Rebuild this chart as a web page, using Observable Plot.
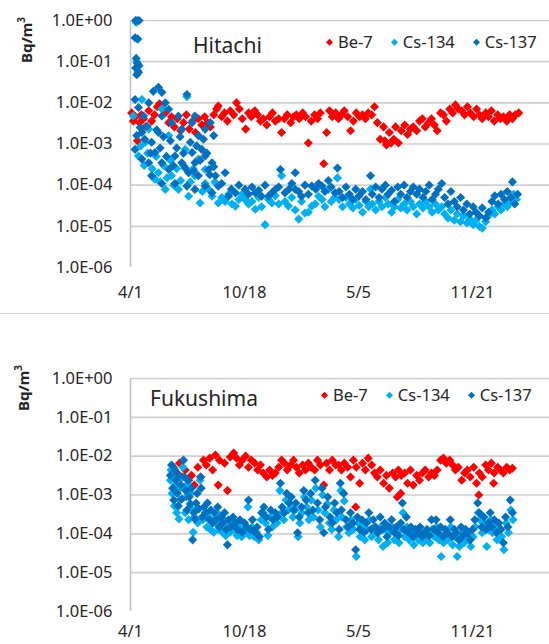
<!DOCTYPE html>
<html><head><meta charset="utf-8">
<script src="https://cdn.jsdelivr.net/npm/d3@7"></script>
<script src="https://cdn.jsdelivr.net/npm/@observablehq/plot@0.6"></script>
<style>
body{margin:0;background:#fff;}
#wrap{position:relative;width:549px;height:644px;overflow:hidden;font-family:"Noto Sans",sans-serif;color:#262626;}
.abs{position:absolute;white-space:nowrap;line-height:1;}
.panel{position:absolute;left:0;}
.leg{position:absolute;display:flex;align-items:center;line-height:1;white-space:nowrap;transform:translateY(-50%);font-size:16.5px;}
.leg .item{display:flex;align-items:center;margin-right:19px;}
.leg .dia{width:5px;height:5px;transform:rotate(45deg);margin-right:6px;}
</style></head><body><div id="wrap"></div>
<script>
// ---- data: [days since 2011-04-01, Bq/m3] ----
const seriesNames = ["Be-7", "Cs-134", "Cs-137"];
const seriesColors = ["#FF0000", "#00B0F0", "#0070C0"];
const panelTitles = ["Hitachi", "Fukushima"];
const yTicks = [1, 1e-1, 1e-2, 1e-3, 1e-4, 1e-5, 1e-6];
const yTickLabels = ["1.0E+00", "1.0E-01", "1.0E-02", "1.0E-03", "1.0E-04", "1.0E-05", "1.0E-06"];
const gridValues = [1, 1e-1, 1e-2, 1e-3, 1e-4, 1e-5];
const xTickDates = ["2011-04-01", "2011-10-18", "2012-05-05", "2012-11-21"];
const xTickLabels = ["4/1", "10/18", "5/5", "11/21"];
const xEndDays = 735;

const hitachiBe7 = [[2,5.7e-3],[5,3.6e-3],[9,4.6e-3],[12,1.2e-3],[16,3.3e-3],[19,5.1e-3],[23,4.1e-3],[26,2.6e-3],[32,6.4e-3],[37,3.6e-3],[42,5.1e-3],[47,8.0e-3],[51,9.5e-3],[56,7.1e-3],[61,5.7e-3],[67,3.3e-3],[72,4.6e-3],[77,2.6e-3],[82,4.1e-3],[88,2.1e-3],[93,3.3e-3],[98,5.1e-3],[103,2.3e-3],[109,3.6e-3],[114,1.9e-3],[119,4.1e-3],[125,2.9e-3],[130,4.6e-3],[135,3.3e-3],[140,2.6e-3],[146,5.1e-3],[151,7.1e-3],[154,8.4e-3],[160,4.6e-3],[165,5.7e-3],[170,3.6e-3],[175,6.4e-3],[181,5.1e-3],[186,1.0e-2],[191,7.1e-3],[196,4.1e-3],[202,2.3e-3],[207,5.7e-3],[212,4.6e-3],[218,6.4e-3],[223,5.1e-3],[228,3.6e-3],[233,4.1e-3],[239,2.9e-3],[244,4.6e-3],[249,5.7e-3],[254,3.6e-3],[260,4.1e-3],[265,1.9e-3],[270,4.1e-3],[275,5.1e-3],[281,3.3e-3],[286,4.6e-3],[291,5.1e-3],[296,4.1e-3],[302,5.7e-3],[307,4.6e-3],[312,1.06e-3],[317,3.6e-3],[323,5.1e-3],[328,4.1e-3],[333,5.7e-3],[339,3.3e-4],[344,1.9e-3],[349,6.4e-3],[354,4.6e-3],[360,5.7e-3],[365,4.1e-3],[370,5.1e-3],[375,6.4e-3],[381,4.6e-3],[386,2.1e-3],[391,3.6e-3],[396,5.7e-3],[402,4.6e-3],[407,5.1e-3],[412,4.1e-3],[417,5.7e-3],[423,5.1e-3],[428,8.0e-3],[433,3.3e-3],[438,1.3e-3],[444,2.6e-3],[446,1.2e-3],[449,9.5e-4],[454,1.9e-3],[457,1.06e-3],[460,1.2e-3],[462,1.3e-3],[465,2.6e-3],[470,1.06e-3],[475,2.1e-3],[481,2.9e-3],[486,1.7e-3],[491,2.3e-3],[496,2.6e-3],[502,2.1e-3],[507,3.6e-3],[512,4.1e-3],[517,2.6e-3],[523,3.3e-3],[528,4.1e-3],[533,2.9e-3],[538,2.1e-3],[544,5.7e-3],[549,5.1e-3],[554,3.6e-3],[560,7.1e-3],[565,5.7e-3],[570,8.9e-3],[575,7.1e-3],[581,6.4e-3],[586,5.1e-3],[591,8.0e-3],[596,5.7e-3],[602,4.6e-3],[607,7.1e-3],[612,5.1e-3],[617,4.1e-3],[623,5.7e-3],[628,4.6e-3],[633,6.4e-3],[638,3.6e-3],[644,5.1e-3],[649,4.1e-3],[654,4.6e-3],[660,3.6e-3],[665,5.1e-3],[670,4.1e-3],[675,5.1e-3],[681,5.7e-3]];

const hitachiCs134 = [[10,0.9],[13,0.35],[11,0.1],[13,0.06],[5,4.8e-3],[20,1.2e-2],[32,2.3e-3],[55,7.1e-3],[67,1.6e-3],[99,1.4e-2],[96,7.4e-4],[119,4.3e-4],[131,2.4e-4],[14,5.1e-4],[26,1.1e-3],[43,1.4e-4],[49,2.0e-4],[61,7.9e-5],[72,1.7e-4],[84,7.9e-5],[102,5.4e-5],[113,1.7e-4],[122,3.7e-5],[131,1.1e-4],[143,5.4e-5],[154,3.7e-5],[18,9e-4],[24,3e-4],[30,6e-4],[38,2.5e-4],[45,5e-4],[52,1.2e-4],[58,3e-4],[64,1.5e-4],[70,4e-4],[76,1e-4],[81,2.5e-4],[88,1.3e-4],[93,3e-4],[105,1.2e-4],[110,2.5e-4],[126,7e-5],[137,8e-5],[148,1.2e-4],[160,5e-5],[166,4e-5],[172,6e-5],[178,3.5e-5],[184,3.1e-5],[190,4.5e-5],[196,6e-5],[201,4.5e-5],[207,3.5e-5],[213,4e-5],[219,2.6e-5],[225,5e-5],[230,3e-5],[236,1.1e-5],[242,4.5e-5],[248,3.7e-5],[254,5.5e-5],[260,3.5e-5],[265,1.7e-4],[271,4e-5],[277,3.1e-5],[283,5e-5],[289,2.5e-5],[295,1.5e-5],[300,4e-5],[306,2.1e-5],[312,2.2e-5],[318,3.1e-5],[324,3.5e-5],[330,5.4e-5],[336,4.5e-5],[341,3e-5],[347,7.9e-5],[352,4e-5],[358,5e-5],[363,1.5e-4],[366,4.5e-5],[372,3e-5],[378,5e-5],[384,3.5e-5],[390,2.8e-5],[395,4.5e-5],[401,3.2e-5],[407,2.2e-5],[413,4e-5],[418,3e-5],[421,8e-5],[424,3.5e-5],[430,2.5e-5],[436,4e-5],[441,3e-5],[447,5e-5],[452,3.5e-5],[458,2.2e-5],[463,3e-5],[469,4.5e-5],[474,2.8e-5],[480,3.5e-5],[485,2.5e-5],[491,4e-5],[496,3e-5],[502,2e-5],[507,3.5e-5],[513,2.8e-5],[518,4e-5],[524,3e-5],[529,2.2e-5],[535,3.5e-5],[540,2.5e-5],[546,3e-5],[551,2e-5],[557,1.6e-5],[562,2.5e-5],[568,1.4e-5],[573,2e-5],[579,1.3e-5],[584,1.8e-5],[590,1.2e-5],[595,1.5e-5],[601,1.1e-5],[606,1.4e-5],[612,1.0e-5],[617,9e-6],[623,1.3e-5],[628,1.8e-5],[634,2.5e-5],[639,2e-5],[645,3e-5],[650,2.5e-5],[656,3.5e-5],[661,3e-5],[667,4e-5],[672,6e-5],[677,4.5e-5]];

const hitachiCs137 = [[9,1.0],[12,1.0],[15,1.0],[8,0.38],[12,0.36],[10,0.12],[12,0.09],[9,0.07],[14,0.055],[11,0.048],[15,0.08],[8,1.2e-2],[14,7.7e-3],[23,4.8e-3],[32,1.0e-2],[40,1.9e-2],[49,2.4e-2],[55,1.8e-2],[61,1.0e-2],[29,2.7e-3],[20,1.9e-3],[11,1.6e-3],[37,1.1e-3],[49,1.9e-3],[55,4.8e-3],[67,7.0e-3],[72,3.3e-3],[84,4.8e-3],[90,2.3e-3],[99,1.6e-2],[108,3.3e-3],[113,4.8e-3],[119,1.6e-3],[131,2.3e-3],[140,3.3e-3],[146,1.6e-3],[17,2.5e-3],[25,1.3e-3],[35,6e-4],[46,2.2e-3],[52,8e-4],[58,1.5e-3],[63,5e-4],[70,1.2e-3],[75,3e-4],[81,8e-4],[87,1.5e-3],[93,6e-4],[96,2.6e-4],[105,1.1e-3],[111,2.2e-4],[116,9e-4],[122,4e-4],[128,1.3e-3],[134,6e-4],[139,1.8e-4],[146,2.8e-4],[8,7.4e-4],[20,4.3e-4],[32,3.5e-4],[43,6.2e-4],[55,3.5e-4],[67,2.4e-4],[78,5.1e-4],[90,3.5e-4],[102,2.0e-4],[108,6.2e-4],[113,3.5e-4],[119,1.7e-4],[125,7.4e-4],[131,5.1e-4],[137,2.4e-4],[143,3.5e-4],[149,1.7e-4],[37,1.7e-4],[55,1.1e-4],[78,1.1e-4],[99,9.5e-5],[113,7.9e-5],[131,9.5e-5],[143,6.5e-5],[154,9.5e-5],[160,1.1e-4],[166,2.0e-4],[172,5.4e-5],[177,8e-5],[184,6.5e-5],[190,1.0e-4],[201,7.9e-5],[207,6e-5],[213,9e-5],[219,6.5e-5],[225,7.5e-5],[230,5.4e-5],[236,1.0e-4],[242,5.4e-5],[248,6.5e-5],[254,7.9e-5],[260,9e-5],[263,2.4e-4],[271,6.5e-5],[278,8e-5],[283,1.1e-4],[289,2.0e-4],[289,7.9e-5],[295,7e-5],[300,5.4e-5],[306,1.0e-4],[312,6e-5],[318,9.5e-5],[325,8e-5],[330,1.1e-4],[336,9.5e-5],[341,7e-5],[347,1.3e-4],[352,9e-5],[359,6.5e-5],[363,2.6e-4],[366,7e-5],[372,5e-5],[378,9e-5],[384,6e-5],[390,4.5e-5],[395,8e-5],[401,5.5e-5],[407,7e-5],[413,4.5e-5],[421,1.7e-4],[424,6e-5],[430,9e-5],[436,5e-5],[441,8e-5],[447,1.0e-4],[452,6e-5],[458,7.5e-5],[463,4e-5],[469,9e-5],[474,6e-5],[480,1.0e-4],[485,5e-5],[491,7e-5],[496,9e-5],[502,6e-5],[507,8e-5],[513,5e-5],[518,7e-5],[524,1.0e-4],[529,4.5e-5],[535,6e-5],[540,8e-5],[546,1.1e-4],[551,5e-5],[557,3.5e-5],[562,7e-5],[568,4e-5],[573,3e-5],[579,5e-5],[584,2.5e-5],[590,3.5e-5],[595,2e-5],[601,3e-5],[606,2.2e-5],[612,1.8e-5],[617,2.8e-5],[623,1.6e-5],[628,2.2e-5],[634,4e-5],[639,5.5e-5],[645,3.5e-5],[650,6e-5],[656,4.5e-5],[661,7e-5],[667,5e-5],[670,1.2e-4],[674,3.5e-5],[679,6e-5]];

const fukushimaBe7 = [[75,5.2e-3],[81,3.7e-3],[86,6.6e-3],[91,2.9e-3],[96,4.4e-3],[102,2.4e-3],[107,3.2e-3],[112,1.8e-3],[118,5.2e-3],[123,2.9e-3],[128,7.9e-3],[133,5.9e-3],[139,8.9e-3],[144,4.4e-3],[149,1.07e-2],[154,1.8e-3],[156,7.9e-3],[165,6.6e-3],[170,1.3e-3],[175,9.5e-3],[181,1.2e-2],[186,8.9e-3],[191,5.9e-3],[196,7.9e-3],[202,1.0e-2],[207,5.2e-3],[212,7.9e-3],[218,6.6e-3],[223,4.4e-3],[228,5.9e-3],[233,3.7e-3],[239,2.9e-3],[244,4.4e-3],[249,3.2e-3],[254,3.7e-3],[260,5.2e-3],[265,7.9e-3],[270,6.6e-3],[275,4.4e-3],[281,5.9e-3],[286,7.9e-3],[291,5.2e-3],[296,3.7e-3],[302,5.9e-3],[307,4.4e-3],[312,6.6e-3],[317,5.2e-3],[323,4.4e-3],[328,7.9e-3],[333,5.9e-3],[339,1.8e-3],[344,6.6e-3],[349,4.4e-3],[354,7.9e-3],[360,5.9e-3],[365,5.9e-3],[370,4.4e-3],[375,6.6e-3],[381,5.2e-3],[386,2.9e-3],[391,7.9e-3],[395,4.9e-4],[396,5.2e-3],[402,2.0e-3],[407,6.6e-3],[412,4.4e-3],[417,8.9e-3],[423,5.9e-3],[428,3.7e-3],[433,2.9e-3],[438,4.4e-3],[444,2.0e-3],[449,3.2e-3],[454,1.5e-3],[460,3.7e-3],[465,2.9e-3],[468,8.9e-4],[470,4.4e-3],[474,1.1e-3],[475,3.2e-3],[481,3.7e-3],[486,2.0e-3],[491,4.4e-3],[496,1.8e-3],[502,3.2e-3],[507,2.4e-3],[512,3.7e-3],[517,4.4e-3],[523,2.9e-3],[528,3.7e-3],[533,3.2e-3],[538,4.4e-3],[544,7.9e-3],[549,8.9e-3],[554,6.6e-3],[560,7.9e-3],[565,5.9e-3],[570,4.4e-3],[575,5.2e-3],[581,2.4e-3],[586,3.7e-3],[591,4.4e-3],[596,2.9e-3],[602,5.2e-3],[607,2.0e-3],[611,1.0e-3],[612,3.7e-3],[617,2.9e-3],[623,5.9e-3],[628,4.4e-3],[633,6.6e-3],[637,2.0e-3],[638,3.7e-3],[644,5.2e-3],[649,4.4e-3],[654,3.7e-3],[660,5.2e-3],[665,4.4e-3],[670,4.9e-3]];

const fukushimaCs134 = [[70,2.4e-3],[71,4.4e-3],[73,1.1e-3],[75,2.9e-3],[77,5.2e-4],[79,1.8e-3],[81,3.5e-4],[83,1.3e-3],[85,2.4e-4],[87,7.4e-4],[89,2.7e-3],[92,5.2e-3],[94,1.5e-3],[96,3.5e-4],[98,8.9e-4],[100,1.9e-3],[102,2.3e-4],[104,4.9e-4],[106,1.1e-3],[110,1.1e-4],[112,2.7e-4],[114,4.1e-4],[118,1.9e-4],[122,2.4e-3],[127,2.3e-4],[131,3.5e-4],[134,1.5e-4],[137,2.7e-4],[140,1.3e-4],[143,2.3e-4],[146,1.1e-4],[149,1.9e-4],[152,3.5e-4],[155,1.3e-4],[158,1.9e-4],[161,1.1e-4],[164,2.3e-4],[167,9.0e-5],[171,1.5e-4],[175,1.1e-4],[179,1.9e-4],[183,1.3e-4],[187,9.0e-5],[191,1.5e-4],[195,8.4e-5],[199,1.3e-4],[203,1.1e-4],[206,4.9e-4],[209,9.0e-5],[213,1.5e-4],[217,8.4e-5],[221,1.1e-4],[225,7.0e-5],[229,2.3e-4],[233,3.5e-4],[237,1.9e-4],[241,9.0e-5],[245,2.7e-4],[249,1.5e-4],[253,2.3e-4],[257,1.9e-4],[262,1.3e-3],[265,3.5e-4],[269,2.3e-4],[273,7.4e-4],[277,4.1e-4],[281,5.9e-4],[285,2.7e-4],[289,4.1e-4],[294,8.4e-5],[297,1.9e-4],[301,3.5e-4],[305,8.9e-4],[309,4.9e-4],[313,2.3e-4],[317,7.4e-4],[321,2.7e-4],[325,1.5e-3],[329,4.1e-4],[333,1.5e-4],[337,1.0e-3],[341,3.5e-4],[345,5.9e-4],[349,1.9e-4],[353,1.3e-4],[357,4.1e-4],[361,2.3e-4],[365,8.4e-5],[369,1.3e-3],[371,2.7e-4],[375,7.0e-4],[379,1.5e-4],[383,1.07e-4],[387,2.3e-4],[391,1.3e-4],[396,2.6e-5],[399,1.9e-4],[403,8.4e-5],[407,1.5e-4],[411,7.0e-5],[415,1.3e-4],[419,2.3e-4],[423,8.4e-5],[427,1.5e-4],[431,1.07e-4],[435,7.0e-5],[439,1.5e-4],[443,4.7e-5],[447,1.3e-4],[451,5.9e-5],[455,1.07e-4],[459,1.5e-4],[463,7.0e-5],[467,1.07e-4],[471,5.9e-5],[475,1.3e-4],[478,3.5e-4],[481,8.4e-5],[485,1.5e-4],[489,7.0e-5],[493,1.07e-4],[497,5.2e-5],[501,8.4e-5],[505,7.0e-5],[509,1.07e-4],[513,5.9e-5],[517,7.0e-5],[521,8.4e-5],[525,5.9e-5],[529,1.3e-4],[533,8.4e-5],[537,1.5e-4],[541,7.0e-5],[545,2.6e-5],[549,5.9e-5],[553,8.4e-5],[557,7.0e-5],[562,1.5e-4],[565,5.2e-5],[569,8.4e-5],[573,2.6e-5],[577,4.7e-5],[581,1.07e-4],[585,5.9e-5],[589,8.4e-5],[593,7.0e-5],[597,4.7e-5],[601,8.4e-5],[605,1.5e-4],[610,3.5e-4],[613,2.3e-4],[617,1.07e-4],[621,1.9e-4],[625,4.7e-5],[629,1.3e-4],[632,2.3e-4],[635,1.07e-4],[639,1.5e-4],[643,7.0e-5],[647,1.3e-4],[651,8.4e-5],[655,3.9e-5],[659,1.9e-4],[663,1.07e-4],[667,4.1e-4],[671,2.3e-4]];

const fukushimaCs137 = [[70,3.2e-3],[72,5.9e-3],[74,1.5e-3],[76,7.4e-4],[78,4.4e-3],[80,2.4e-3],[82,1.1e-3],[84,5.2e-4],[86,3.2e-3],[88,1.8e-3],[90,7.9e-4],[93,7.9e-3],[95,2.9e-3],[97,1.3e-3],[99,4.1e-4],[101,2.4e-3],[103,8.9e-4],[105,5.9e-4],[107,1.5e-3],[109,7.0e-5],[111,3.5e-4],[113,2.4e-4],[115,6.2e-4],[117,1.1e-3],[120,4.4e-4],[123,2.9e-3],[124,1.5e-3],[126,2.7e-4],[129,4.9e-4],[132,3.5e-4],[135,6.2e-4],[138,2.3e-4],[141,4.1e-4],[144,1.9e-4],[147,3.5e-4],[150,2.3e-4],[153,4.9e-4],[156,1.5e-4],[159,2.7e-4],[162,1.9e-4],[165,3.5e-4],[168,1.3e-4],[170,5.2e-5],[172,2.3e-4],[176,1.5e-4],[180,2.7e-4],[184,1.9e-4],[188,1.3e-4],[192,2.3e-4],[196,1.1e-4],[200,1.9e-4],[204,1.5e-4],[207,7.4e-4],[210,1.3e-4],[214,2.3e-4],[218,1.1e-4],[222,1.5e-4],[226,8.4e-5],[230,3.5e-4],[234,4.9e-4],[238,2.7e-4],[242,1.3e-4],[246,4.1e-4],[250,2.3e-4],[254,3.5e-4],[258,2.7e-4],[263,2.0e-3],[266,4.9e-4],[270,3.5e-4],[274,1.1e-3],[278,6.2e-4],[282,8.9e-4],[286,4.1e-4],[290,6.2e-4],[293,1.07e-4],[296,2.7e-4],[300,4.9e-4],[304,1.3e-3],[308,7.4e-4],[312,3.5e-4],[316,1.1e-3],[320,4.1e-4],[324,2.4e-3],[328,6.2e-4],[332,2.3e-4],[336,1.5e-3],[339,1.07e-4],[342,4.9e-4],[346,8.9e-4],[350,2.7e-4],[354,1.9e-4],[358,6.2e-4],[362,3.5e-4],[366,1.3e-4],[368,2.0e-3],[370,4.1e-4],[374,1.1e-3],[378,2.3e-4],[382,1.5e-4],[386,3.5e-4],[390,1.9e-4],[395,3.9e-5],[398,2.7e-4],[402,1.3e-4],[406,2.3e-4],[410,1.1e-4],[414,1.9e-4],[418,3.5e-4],[422,1.3e-4],[426,2.3e-4],[430,1.5e-4],[434,1.07e-4],[438,2.7e-4],[442,1.3e-4],[446,1.9e-4],[450,8.4e-5],[454,1.5e-4],[458,2.3e-4],[462,1.1e-4],[466,1.5e-4],[470,9.0e-5],[474,1.9e-4],[477,6.2e-4],[480,1.3e-4],[484,2.7e-4],[488,1.07e-4],[492,1.5e-4],[496,8.4e-5],[500,1.3e-4],[504,1.07e-4],[508,1.5e-4],[512,8.4e-5],[516,1.1e-4],[520,1.3e-4],[524,9.0e-5],[528,2.3e-4],[532,1.3e-4],[536,2.3e-4],[540,1.07e-4],[544,1.5e-4],[548,8.4e-5],[552,1.3e-4],[556,1.07e-4],[561,2.3e-4],[564,8.4e-5],[568,1.3e-4],[572,1.07e-4],[576,7.0e-5],[580,1.5e-4],[584,9.0e-5],[588,1.3e-4],[592,1.07e-4],[596,7.0e-5],[600,1.3e-4],[604,2.3e-4],[609,6.2e-4],[612,3.5e-4],[616,1.5e-4],[620,2.7e-4],[624,1.3e-4],[628,1.9e-4],[631,3.5e-4],[634,1.5e-4],[638,2.3e-4],[642,1.07e-4],[646,1.9e-4],[650,1.3e-4],[654,5.9e-5],[658,2.7e-4],[662,1.5e-4],[666,7.4e-4],[670,3.5e-4]];

// ---- build ----
const start = Date.UTC(2011, 3, 1);
const toDate = d => new Date(start + d * 864e5);
const rows = (pairs, series) => pairs.map(([d, v]) => ({date: toDate(d), value: v, series}));
const xTicks = xTickDates.map(s => new Date(s + "T00:00:00Z"));
const xLabel = new Map(xTicks.map((d, i) => [+d, xTickLabels[i]]));
const yLabel = v => yTickLabels[yTicks.findIndex(t => Math.abs(Math.log10(t) - Math.log10(v)) < 1e-6)];

const wrap = document.getElementById("wrap");

function makePanel(top, height, marginTop, plotH, xPad, datasets, title, titlePos, legendPos, labelPos) {
  const data = datasets.flatMap((p, i) => rows(p, seriesNames[i]));
  const chart = Plot.plot({
    width: 549, height,
    marginLeft: 130, marginRight: 0, marginTop, marginBottom: height - marginTop - plotH,
    style: {fontFamily: '"Noto Sans", sans-serif', fontSize: "16.5px", color: "#262626", background: "transparent", overflow: "visible"},
    x: {type: "utc", domain: [toDate(0), toDate(xEndDays)], ticks: xTicks, tickFormat: d => xLabel.get(+d), tickSize: 0, tickPadding: xPad, label: null},
    y: {type: "log", domain: [1e-6, 1], ticks: yTicks, tickFormat: yLabel, tickSize: 0, tickPadding: 18, label: null},
    color: {domain: seriesNames, range: seriesColors},
    marks: [
      Plot.ruleY(gridValues, {stroke: "#cfcfcf", strokeWidth: 1.6}),
      Plot.ruleX([toDate(0)], {stroke: "#c4c4c4", strokeWidth: 1.6}),
      Plot.dot(data, {x: "date", y: "value", fill: "series", symbol: "diamond2", r: 4.1, stroke: "none"})
    ]
  });
  chart.classList.add("panel");
  chart.style.top = top + "px";
  wrap.appendChild(chart);

  const t = document.createElement("div");
  t.className = "abs";
  t.textContent = title;
  t.style.cssText += `left:${titlePos[0]}px;top:${titlePos[1]}px;font-size:21px;transform:translateY(-50%);`;
  wrap.appendChild(t);

  const leg = document.createElement("div");
  leg.className = "leg";
  leg.style.left = legendPos[0] + "px";
  leg.style.top = legendPos[1] + "px";
  seriesNames.forEach((n, i) => {
    const it = document.createElement("div");
    it.className = "item";
    const dia = document.createElement("div");
    dia.className = "dia";
    dia.style.background = seriesColors[i];
    const tx = document.createElement("span");
    tx.textContent = n;
    it.appendChild(dia); it.appendChild(tx);
    leg.appendChild(it);
  });
  wrap.appendChild(leg);

  const lab = document.createElement("div");
  lab.className = "abs";
  lab.innerHTML = "Bq/m<sup style='font-size:10px;vertical-align:7px'>3</sup>";
  lab.style.cssText += `left:${labelPos[0]}px;top:${labelPos[1]}px;font-size:15px;font-weight:bold;transform:translate(-50%,-50%) rotate(-90deg);`;
  wrap.appendChild(lab);
}

makePanel(0, 300, 20, 247, 19, [hitachiBe7, hitachiCs134, hitachiCs137], panelTitles[0], [193, 45], [327, 42], [25, 40]);
makePanel(350, 294, 28, 233, 14, [fukushimaBe7, fukushimaCs134, fukushimaCs137], panelTitles[1], [150, 398], [322, 395], [22, 388]);

const sep = document.createElement("div");
sep.style.cssText = "position:absolute;left:0;top:313px;width:549px;height:1px;background:#d4d4d4;";
wrap.appendChild(sep);
</script></body></html>
